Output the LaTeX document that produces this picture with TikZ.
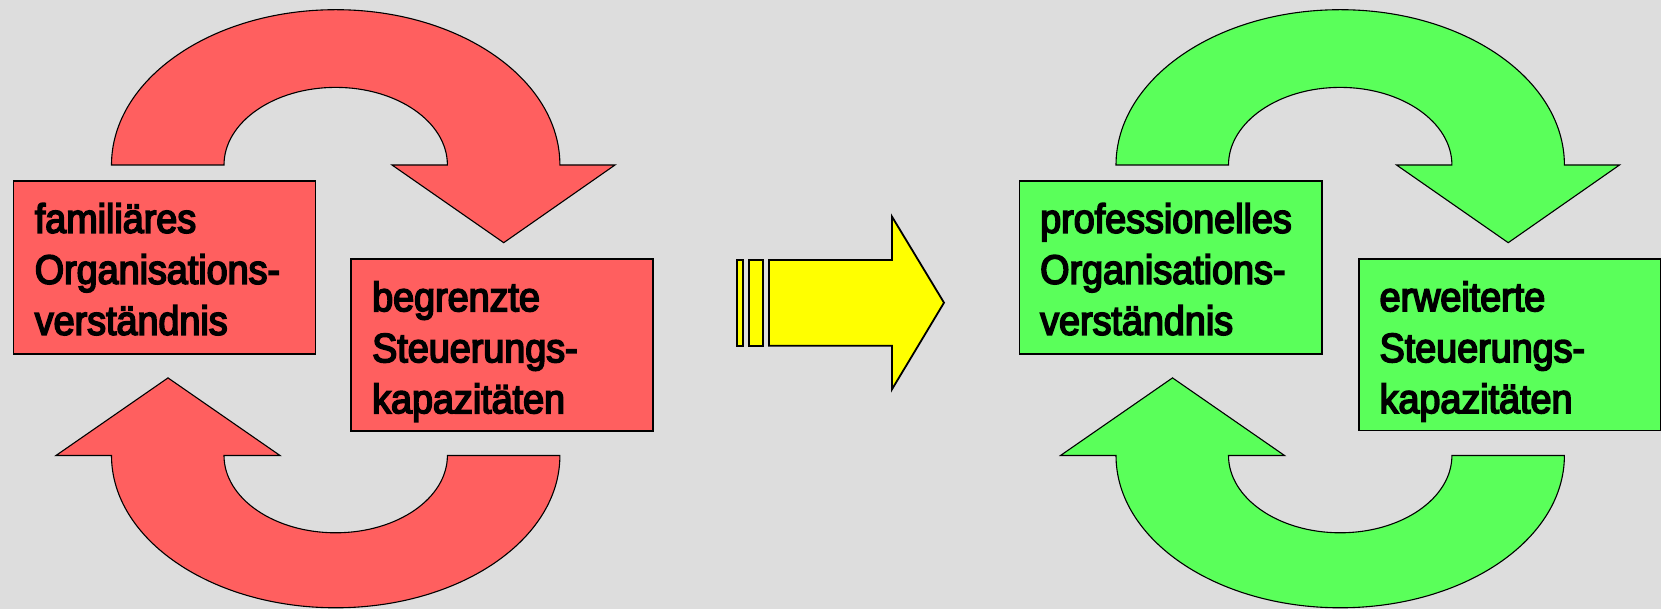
\documentclass[tikz,border=0pt]{standalone}
\usepackage{fontspec}
\setmainfont{Liberation Sans}[FakeStretch=0.92, FakeBold=4]
\definecolor{bg}{HTML}{DDDDDD}
\definecolor{redfill}{HTML}{FF5F5F}
\definecolor{greenfill}{HTML}{5AFF5A}
\definecolor{yellowfill}{HTML}{FFFF00}
\begin{document}
\begin{tikzpicture}[x=1pt,y=1pt,
  boxshape/.style={draw=black, line width=1.5pt, inner sep=0pt, anchor=south west},
  arcshape/.style={draw=black, line width=1.1pt, line join=miter},
  lbl/.style={inner sep=0pt, anchor=base west, font=\fontsize{41}{51}\selectfont},
  yarrow/.style={draw=black, line width=1.8pt, fill=yellowfill, line join=miter}]
\fill[bg] (0,0) rectangle (1661,609);
\useasboundingbox (0,0) rectangle (1661,609);

% ---------- red group ----------
\draw[arcshape, fill=redfill] (111.5,444) arc[start angle=180, end angle=0, x radius=224.2pt, y radius=155.3pt]
  -- (615,444) -- (503.7,366.3) -- (392,444) -- (447.4,444)
  arc[start angle=0, end angle=180, x radius=111.7pt, y radius=77.6pt] -- cycle;
\draw[arcshape, fill=redfill] (111.5,153.5) arc[start angle=180, end angle=360, x radius=224.2pt, y radius=152.3pt]
  -- (447.4,153.5)
  arc[start angle=360, end angle=180, x radius=111.7pt, y radius=77.3pt]
  -- (280,153.5) -- (168,231.1) -- (56,153.5) -- cycle;
\node[boxshape, fill=redfill, minimum width=302.2pt, minimum height=172.9pt] (rl) at (12.6,254.4) {};
\node[boxshape, fill=redfill, minimum width=302.4pt, minimum height=172pt] (rr) at (350,177) {};
\node[lbl] (rlt1) at ([xshift=22pt,yshift=-52.6pt]rl.north west) {familiäres};
\node[lbl] (rlt2) at ([yshift=-51pt]rlt1.base west) {Organisations-};
\node[lbl] (rlt3) at ([yshift=-51pt]rlt2.base west) {verständnis};
\node[lbl] (rrt1) at ([xshift=22pt,yshift=-52.7pt]rr.north west) {begrenzte};
\node[lbl] (rrt2) at ([yshift=-51pt]rrt1.base west) {Steuerungs-};
\node[lbl] (rrt3) at ([yshift=-51pt]rrt2.base west) {kapazitäten};

% ---------- yellow arrow ----------
\draw[yarrow] (736.7,263.3) rectangle (743.3,349);
\draw[yarrow] (749.3,263.3) rectangle (762.7,349);
\draw[yarrow] (769,263.3) -- (892,263.3) -- (892,219.7) -- (944,306.3) -- (892,392.3) -- (892,349) -- (769,349) -- cycle;

% ---------- green group ----------
\begin{scope}[xshift=1004.5pt]
\draw[arcshape, fill=greenfill] (111.5,444) arc[start angle=180, end angle=0, x radius=224.2pt, y radius=155.3pt]
  -- (615,444) -- (503.7,366.3) -- (392,444) -- (447.4,444)
  arc[start angle=0, end angle=180, x radius=111.7pt, y radius=77.6pt] -- cycle;
\draw[arcshape, fill=greenfill] (111.5,153.5) arc[start angle=180, end angle=360, x radius=224.2pt, y radius=152.3pt]
  -- (447.4,153.5)
  arc[start angle=360, end angle=180, x radius=111.7pt, y radius=77.3pt]
  -- (280,153.5) -- (168,231.1) -- (56,153.5) -- cycle;
\end{scope}
\node[boxshape, fill=greenfill, minimum width=302.7pt, minimum height=172.9pt] (gl) at (1018.5,254.4) {};
\node[boxshape, fill=greenfill, minimum width=302pt, minimum height=171.5pt] (gr) at (1358,177.5) {};
\node[lbl] (glt1) at ([xshift=21.5pt,yshift=-52.6pt]gl.north west) {professionelles};
\node[lbl] (glt2) at ([yshift=-51pt]glt1.base west) {Organisations-};
\node[lbl] (glt3) at ([yshift=-51pt]glt2.base west) {verständnis};
\node[lbl] (grt1) at ([xshift=21.4pt,yshift=-52.6pt]gr.north west) {erweiterte};
\node[lbl] (grt2) at ([yshift=-51pt]grt1.base west) {Steuerungs-};
\node[lbl] (grt3) at ([yshift=-51pt]grt2.base west) {kapazitäten};
\end{tikzpicture}
\end{document}
